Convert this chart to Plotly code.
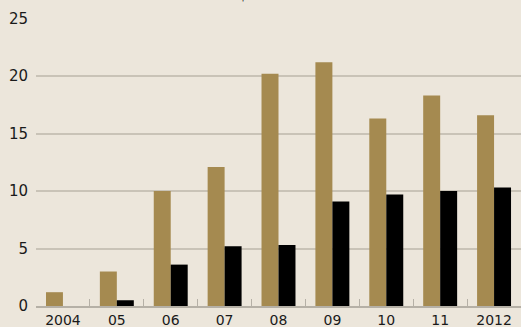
import plotly.graph_objects as go

categories = ["2004", "05", "06", "07", "08", "09", "10", "11", "2012"]
gold_values = [1.2, 3.0, 10.0, 12.1, 20.2, 21.2, 16.3, 18.3, 16.6]
black_values = [0, 0.5, 3.6, 5.2, 5.3, 9.1, 9.7, 10.0, 10.3]
y_ticks = [0, 5, 10, 15, 20, 25]

fig = go.Figure()
fig.add_trace(go.Bar(x=categories, y=gold_values, marker=dict(color="#A58A50", line=dict(width=0))))
fig.add_trace(go.Bar(x=categories, y=black_values, marker=dict(color="#000000", line=dict(width=0))))

fig.update_layout(
    width=521, height=327,
    margin=dict(l=36, r=0, t=18, b=21),
    paper_bgcolor="#ECE6DB", plot_bgcolor="#ECE6DB",
    barmode="group", bargap=0.37, bargroupgap=0,
    showlegend=False,
    font=dict(family="DejaVu Sans, sans-serif", size=14, color="#1a1a1a"),
)
fig.update_yaxes(
    range=[0, 25.05], tickvals=y_ticks, showgrid=True, gridcolor="#C9C3B7", gridwidth=1.5,
    zeroline=False, ticks="", ticklabelstandoff=7, automargin=False, showline=False,
    tickfont=dict(size=15),
)
fig.update_xaxes(
    showgrid=False, showline=True, linecolor="#B5B0A6", linewidth=2,
    ticks="inside", tickson="boundaries", ticklen=7, tickcolor="#B5B0A6", tickwidth=1,
    automargin=False, ticklabelstandoff=0, tickfont=dict(size=14),
)
fig.add_annotation(
    text="$ billions", xref="paper", yref="paper", x=0.49, y=1.045,
    xanchor="center", yanchor="bottom", showarrow=False,
    font=dict(size=16, color="#1a1a1a"),
)
fig.write_html("out.html")
